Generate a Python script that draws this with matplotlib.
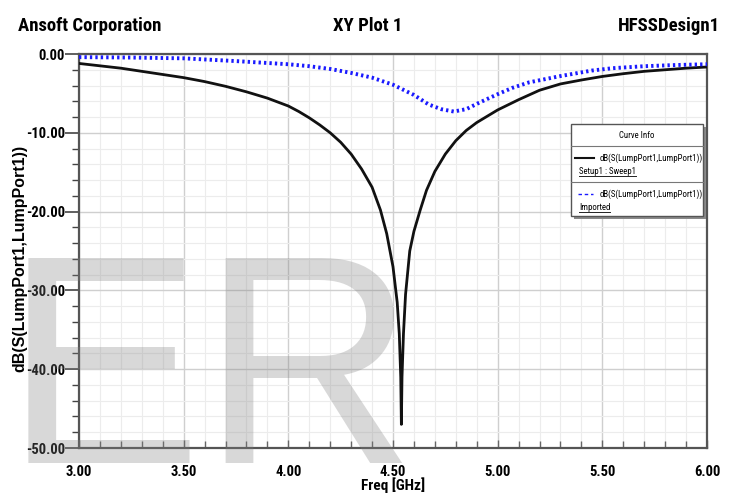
import matplotlib
matplotlib.use("Agg")
import matplotlib.pyplot as plt
from matplotlib import font_manager
from matplotlib.lines import Line2D
from matplotlib.patches import Rectangle
from matplotlib.ticker import MultipleLocator, FormatStrFormatter

# simulated return loss, Setup1 : Sweep1
freq_sim = [3.00, 3.10, 3.20, 3.30, 3.40, 3.50, 3.60, 3.70, 3.80, 3.90,
            4.00, 4.05, 4.10, 4.15, 4.20, 4.25, 4.30, 4.35, 4.40, 4.44,
            4.47, 4.50, 4.52, 4.53, 4.537, 4.54, 4.543, 4.55, 4.56, 4.58,
            4.60, 4.63, 4.66, 4.70, 4.75, 4.80, 4.85, 4.90, 5.00, 5.10,
            5.20, 5.30, 5.40, 5.50, 5.60, 5.70, 5.80, 5.90, 6.00]
db_sim = [-1.2, -1.5, -1.8, -2.2, -2.6, -3.0, -3.5, -4.1, -4.8, -5.6,
          -6.6, -7.3, -8.1, -9.0, -10.0, -11.2, -12.7, -14.6, -16.9, -19.8,
          -22.8, -27.0, -31.5, -35.5, -41.0, -47.0, -41.0, -35.5, -30.5, -25.0,
          -22.5, -19.8, -17.3, -14.9, -12.7, -11.0, -9.7, -8.7, -7.1, -5.8,
          -4.6, -3.8, -3.3, -2.85, -2.5, -2.2, -2.0, -1.8, -1.65]

# imported (measured) trace
freq_imp = [3.00, 3.25, 3.50, 3.75, 4.00, 4.10, 4.20, 4.30, 4.40, 4.50,
            4.60, 4.67, 4.73, 4.79, 4.85, 4.91, 5.00, 5.07, 5.15, 5.30,
            5.45, 5.55, 5.70, 5.85, 6.00]
db_imp = [-0.4, -0.45, -0.55, -0.9, -1.3, -1.55, -1.9, -2.4, -3.0, -3.9,
          -5.2, -6.4, -7.0, -7.3, -7.0, -6.2, -5.1, -4.3, -3.6, -2.8,
          -2.1, -1.8, -1.55, -1.4, -1.3]

trace_name = "dB(S(LumpPort1,LumpPort1))"

# pick a narrow face if one is installed
fonts = font_manager.fontManager.ttflist
names = {f.name for f in fonts}
condensed = {f.name for f in fonts if f.stretch in ("condensed", "semi-condensed")}
if "Liberation Sans Narrow" in names:
    narrow = dict(family=["Liberation Sans Narrow", "DejaVu Sans"])
    scale = 1.0
elif "Roboto Condensed" in names:
    narrow = dict(family=["Roboto Condensed", "DejaVu Sans"])
    scale = 1.0
elif "DejaVu Sans" in condensed:
    narrow = dict(family=["DejaVu Sans"], fontstretch="condensed")
    scale = 0.95
else:
    narrow = dict(family=["Liberation Sans", "DejaVu Sans"])
    scale = 0.8

W, H = 736, 494
fig = plt.figure(figsize=(W / 100, H / 100), dpi=100)
ax = fig.add_axes([79 / W, 1 - 448 / H, 628 / W, 394 / H])


def fx(px):
    return px / W


def fy(py):
    return 1 - py / H


ax.plot(freq_sim, db_sim, color="#111111", lw=2.0, zorder=3)
ax.plot(freq_imp, db_imp, color="#1a1aff", lw=2.8, ls=(0, (0.6, 0.8)), zorder=3)

ax.set_xlim(3.0, 6.0)
ax.set_ylim(-50.0, 0.0)
ax.xaxis.set_major_locator(MultipleLocator(0.5))
ax.xaxis.set_minor_locator(MultipleLocator(0.1))
ax.yaxis.set_major_locator(MultipleLocator(10))
ax.yaxis.set_minor_locator(MultipleLocator(2))
ax.xaxis.set_major_formatter(FormatStrFormatter("%.2f"))
ax.yaxis.set_major_formatter(FormatStrFormatter("%.2f"))

ax.grid(which="major", color="#cfcfcf", lw=1.0)
ax.grid(which="minor", color="#ececec", lw=0.8)
ax.set_axisbelow(True)

for s in ax.spines.values():
    s.set_color("#555555")
    s.set_linewidth(1.6)

ax.tick_params(axis="y", which="major", direction="out", length=10, width=1.2,
               color="#444444", pad=0)
ax.tick_params(axis="y", which="minor", direction="out", length=5, width=1.0,
               color="#444444")
ax.tick_params(axis="x", which="major", direction="in", length=6, width=1.0,
               color="#666666", pad=12)
ax.tick_params(axis="x", which="minor", direction="in", length=5, width=1.0,
               color="#666666")
for lab in ax.get_xticklabels() + ax.get_yticklabels():
    lab.update(narrow)
    lab.set_fontweight("bold")
    lab.set_fontsize(10.5 * scale)

ax.set_xlabel("Freq [GHz]", fontweight="bold", fontsize=11 * scale,
              labelpad=0, **narrow)
ax.xaxis.set_label_coords((393 - 79) / 628, (448 - 485) / 394)
ax.xaxis.label.set_va("center")
ax.set_ylabel(trace_name, family=["Liberation Sans", "DejaVu Sans"],
              fontweight="bold", fontsize=11.5)
ax.yaxis.set_label_coords((20 - 79) / 628, (448 - 258) / 394)
ax.yaxis.label.set_va("center")

# header row
for x, txt, ha in [(18, "Ansoft Corporation", "left"),
                   (368, "XY Plot 1", "center"),
                   (720, "HFSSDesign1", "right")]:
    fig.text(fx(x), fy(31), txt, fontweight="bold", fontsize=13.5 * scale,
             ha=ha, va="baseline", **narrow)

# curve info box
box_l, box_r, box_t, box_b = 571, 703, 124, 216
fig.patches.append(Rectangle((fx(box_l + 3), fy(box_b + 3)), fx(box_r - box_l),
                             (box_b - box_t) / H, transform=fig.transFigure,
                             facecolor="#8a8a8a", edgecolor="none", zorder=5))
fig.patches.append(Rectangle((fx(box_l), fy(box_b)), fx(box_r - box_l),
                             (box_b - box_t) / H, transform=fig.transFigure,
                             facecolor="white", edgecolor="#555555", lw=1.0,
                             zorder=6))
small = dict(fontsize=6.3 * scale, zorder=7, va="center", **narrow)
fig.text(fx((box_l + box_r) / 2), fy(135), "Curve Info", ha="center", **small)
for yy in (146, 182):
    fig.lines.append(Line2D([fx(box_l), fx(box_r)], [fy(yy), fy(yy)],
                            transform=fig.transFigure, color="#777777",
                            lw=0.8, zorder=7))
fig.lines.append(Line2D([fx(575), fx(594)], [fy(158), fy(158)],
                        transform=fig.transFigure, color="#111111", lw=1.5,
                        zorder=7))
fig.lines.append(Line2D([fx(578), fx(593)], [fy(194), fy(194)],
                        transform=fig.transFigure, color="#1a1aff", lw=1.0,
                        ls=(0, (2.5, 2)), zorder=7))
fig.text(fx(600), fy(158), trace_name, ha="left", **small)
fig.text(fx(600), fy(194), trace_name, ha="left", **small)
underlined = [fig.text(fx(579), fy(172), "Setup1 : Sweep1", ha="left", **small),
              fig.text(fx(579), fy(208), "Imported", ha="left", **small)]

renderer = fig.canvas.get_renderer()
for t in underlined:
    bb = t.get_window_extent(renderer).transformed(fig.transFigure.inverted())
    fig.lines.append(Line2D([bb.x0, bb.x1], [bb.y0 + 0.002, bb.y0 + 0.002],
                            transform=fig.transFigure, color="#222222",
                            lw=0.7, zorder=7))

# watermark
fig.text(fx(4), fy(463), "ER", family=["Liberation Sans", "DejaVu Sans"],
         fontsize=214, color="#7f7f7f", alpha=0.3, ha="left", va="baseline",
         zorder=10)

fig.savefig("out.png", dpi=100)
